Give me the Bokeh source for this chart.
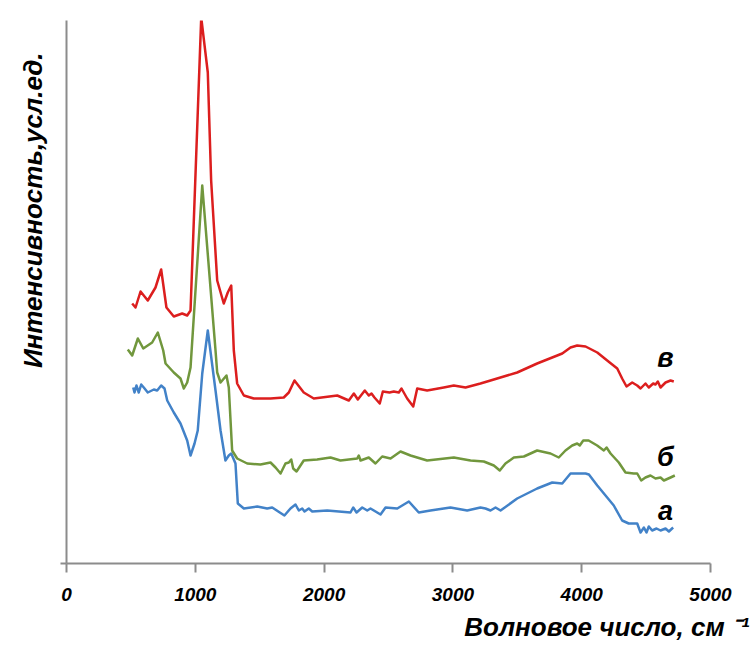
from bokeh.plotting import figure
from bokeh.models import Range1d, Label, FixedTicker, LinearAxis, Title
from bokeh.embed import file_html
from bokeh.resources import INLINE

# Wavenumber (cm^-1) and relative intensity (arbitrary units)
wn_v = [510, 536, 575, 631, 691, 735, 776, 833, 898, 937, 963, 1046, 1097, 1123, 1170, 1221, 1252, 1279,
        1299, 1325, 1377, 1454, 1584, 1687, 1726, 1770, 1842, 1920, 2102, 2192, 2231, 2262, 2316, 2347,
        2368, 2391, 2432, 2456, 2508, 2541, 2580, 2601, 2645, 2692, 2723, 2800, 2929, 3007, 3098, 3214,
        3292, 3499, 3654, 3849, 3913, 3965, 4030, 4121, 4198, 4276, 4314, 4348, 4392, 4431, 4457, 4495,
        4521, 4555, 4573, 4591, 4612, 4651, 4690, 4715]
int_v = [260, 256, 272, 263, 276, 294, 256, 247, 250, 248, 253, 546, 491, 383, 283, 260, 271, 278,
         213, 180, 168, 165, 165, 166, 171, 183, 171, 165, 168, 163, 170, 164, 173, 168,
         170, 166, 160, 172, 171, 172, 171, 175, 165, 157, 175, 173, 176, 178, 176, 180,
         183, 191, 200, 210, 216, 218, 217, 211, 203, 195, 185, 177, 181, 178, 175, 180,
         176, 180, 179, 182, 176, 181, 183, 182]

wn_b = [476, 510, 554, 596, 665, 709, 751, 769, 833, 885, 911, 937, 963, 1054, 1157, 1170, 1196, 1242,
        1260, 1286, 1325, 1403, 1506, 1584, 1623, 1662, 1700, 1726, 1745, 1760, 1786, 1842, 1946, 2050,
        2127, 2257, 2269, 2283, 2347, 2399, 2451, 2516, 2593, 2671, 2800, 3007, 3137, 3240, 3318, 3364,
        3408, 3473, 3551, 3654, 3758, 3822, 3874, 3926, 3965, 3985, 4012, 4054, 4120, 4172, 4193, 4224,
        4288, 4340, 4404, 4431, 4462, 4495, 4534, 4573, 4612, 4638, 4690, 4723]
int_b = [214, 208, 225, 215, 221, 231, 213, 200, 191, 185, 175, 181, 196, 378, 213, 191, 181, 188,
         176, 113, 105, 100, 99, 101, 96, 90, 100, 101, 104, 95, 92, 103, 104, 106,
         103, 105, 108, 103, 106, 100, 107, 105, 112, 108, 103, 106, 103, 102, 98, 93,
         100, 106, 107, 113, 110, 106, 113, 118, 120, 118, 123, 123, 118, 113, 116, 110,
         101, 91, 90, 90, 83, 86, 88, 85, 86, 83, 86, 88]

wn_a = [518, 528, 543, 561, 580, 600, 631, 678, 704, 735, 761, 782, 833, 885, 937, 963, 994, 1019,
        1054, 1097, 1157, 1196, 1234, 1260, 1279, 1312, 1330, 1377, 1481, 1558, 1597, 1656, 1692, 1739,
        1778, 1804, 1830, 1848, 1881, 1908, 2024, 2205, 2226, 2252, 2296, 2335, 2360, 2438, 2477, 2568,
        2658, 2735, 2826, 2981, 3111, 3214, 3253, 3292, 3331, 3370, 3499, 3654, 3771, 3849, 3913, 4030,
        4056, 4121, 4249, 4314, 4365, 4431, 4457, 4483, 4503, 4521, 4547, 4581, 4612, 4651, 4677, 4710]
int_a = [176, 171, 178, 171, 179, 176, 171, 174, 173, 178, 175, 163, 151, 140, 123, 108, 120, 133,
         190, 233, 173, 133, 103, 108, 110, 100, 60, 55, 57, 55, 56, 51, 48, 55,
         59, 53, 55, 52, 55, 52, 53, 51, 56, 51, 56, 53, 55, 49, 56, 55,
         62, 51, 53, 56, 53, 56, 55, 53, 56, 53, 65, 75, 81, 80, 90, 90,
         89, 78, 58, 43, 40, 40, 31, 36, 31, 37, 33, 35, 33, 35, 32, 36]

x_ticks = [0, 1000, 2000, 3000, 4000, 5000]
series_names = ["в", "б", "а"]
series_label_x = [4650, 4650, 4650]
series_label_y = [206, 107, 53]

FONT = "Liberation Sans"

p = figure(width=753, height=655, output_backend="svg", toolbar_location=None,
           x_range=Range1d(0, 5000), y_range=Range1d(0, 543),
           min_border_left=66, min_border_right=43, min_border_top=20, min_border_bottom=92,
           x_axis_location=None, y_axis_location=None)
p.outline_line_color = None
p.grid.visible = False

xaxis = LinearAxis(ticker=FixedTicker(ticks=x_ticks))
xaxis.axis_line_color = "#8c8c8c"
xaxis.axis_line_width = 2
xaxis.major_tick_line_color = "#8c8c8c"
xaxis.major_tick_line_width = 2
xaxis.major_tick_out = 9
xaxis.major_tick_in = 0
xaxis.minor_tick_line_color = None
xaxis.major_label_text_font = FONT
xaxis.major_label_text_font_style = "bold italic"
xaxis.major_label_text_font_size = "19px"
xaxis.major_label_text_color = "black"
xaxis.major_label_standoff = 15
p.add_layout(xaxis, "below")

yaxis = LinearAxis(ticker=FixedTicker(ticks=[0]))
yaxis.axis_line_color = "#8c8c8c"
yaxis.axis_line_width = 2
yaxis.major_tick_line_color = "#8c8c8c"
yaxis.major_tick_line_width = 2
yaxis.major_tick_out = 6
yaxis.major_tick_in = 0
yaxis.minor_tick_line_color = None
yaxis.major_label_text_font_size = "0px"
yaxis.major_label_text_color = None
p.add_layout(yaxis, "left")

p.line(wn_a, int_a, line_color="#4282C8", line_width=2.5, line_join="round")
p.line(wn_b, int_b, line_color="#71973D", line_width=2.5, line_join="round")
p.line(wn_v, int_v, line_color="#DC1E1E", line_width=2.5, line_join="round")

for name, lx, ly in zip(series_names, series_label_x, series_label_y):
    p.add_layout(Label(x=lx, y=ly, text=name, text_font=FONT, text_font_style="bold italic",
                       text_font_size="27px", text_color="black", text_align="center",
                       text_baseline="middle"))

# axis titles
p.add_layout(Title(text="Интенсивность,усл.ед.", align="right", offset=32,
                   text_font=FONT, text_font_style="bold italic", text_font_size="26px",
                   text_color="black", standoff=25), "left")
p.add_layout(Title(text="Волновое число, см ⁻¹", align="right", offset=-39,
                   text_font=FONT, text_font_style="bold italic", text_font_size="26px",
                   text_color="black", standoff=13), "below")

open("out.html", "w").write(file_html(p, INLINE))
